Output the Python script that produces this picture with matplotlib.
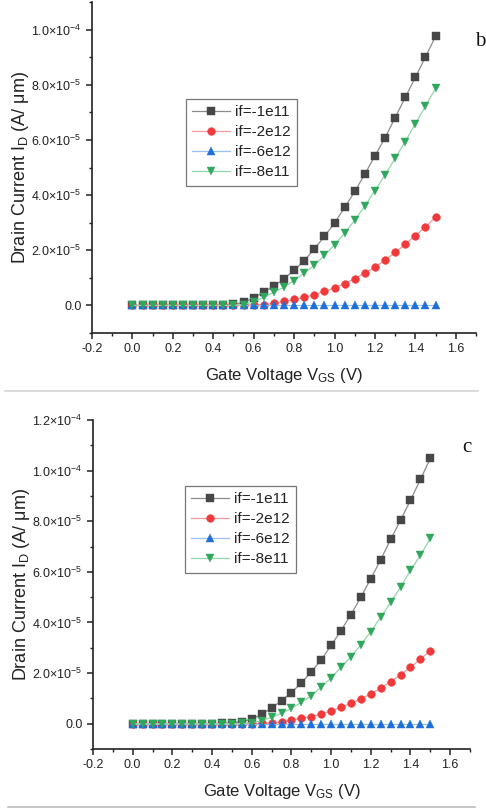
import matplotlib
matplotlib.use("Agg")
import matplotlib.pyplot as plt
from matplotlib.lines import Line2D
from matplotlib.ticker import MultipleLocator, FuncFormatter

plt.rcParams["font.family"] = ["Liberation Sans", "DejaVu Sans"]
plt.rcParams["mathtext.fontset"] = "custom"
plt.rcParams["mathtext.rm"] = "Liberation Sans"
plt.rcParams["mathtext.it"] = "Liberation Sans:italic"
plt.rcParams["mathtext.bf"] = "Liberation Sans:bold"

# Gate voltage sweep (V)
vgs = [0.00, 0.05, 0.10, 0.15, 0.20, 0.25, 0.30, 0.35, 0.40, 0.45,
       0.50, 0.55, 0.60, 0.65, 0.70, 0.75, 0.80, 0.85, 0.90, 0.95,
       1.00, 1.05, 1.10, 1.15, 1.20, 1.25, 1.30, 1.35, 1.40, 1.45, 1.50]

labels = ["if=-1e11", "if=-2e12", "if=-6e12", "if=-8e11"]

# Panel b drain current (uA/um)
id_b_1e11 = [0, 0, 0, 0, 0, 0, 0, 0, 0.05, 0.1,
             0.4, 1.1, 2.7, 4.9, 7.0, 9.6, 12.8, 16.2, 20.5, 25.0,
             29.9, 35.5, 41.3, 47.6, 54.2, 60.8, 68.1, 75.4, 82.7, 90.1, 97.6]
id_b_2e12 = [0, 0, 0, 0, 0, 0, 0, 0, 0, 0,
             0, 0, 0.1, 0.3, 0.8, 1.5, 2.2, 3.0, 3.9, 5.1,
             6.4, 7.9, 9.7, 11.7, 13.9, 16.4, 19.2, 22.2, 25.3, 28.5, 32.0]
id_b_6e12 = [0] * 31
id_b_8e11 = [0, 0, 0, 0, 0, 0, 0, 0, 0, 0,
             0.05, 0.3, 1.3, 3.0, 4.8, 6.6, 9.0, 11.7, 14.6, 18.1,
             22.0, 26.2, 30.9, 36.0, 41.6, 47.3, 53.3, 59.4, 65.9, 72.2, 78.8]

# Panel c drain current (uA/um)
id_c_1e11 = [0, 0, 0, 0, 0, 0, 0, 0, 0, 0.1,
             0.3, 0.8, 1.8, 3.7, 6.2, 9.1, 12.3, 16.1, 20.5, 25.2,
             30.9, 36.8, 43.1, 50.0, 57.3, 64.8, 72.8, 80.4, 88.3, 96.5, 104.8]
id_c_2e12 = [0, 0, 0, 0, 0, 0, 0, 0, 0, 0,
             0, 0, 0, 0.1, 0.3, 0.8, 1.5, 2.1, 2.8, 3.8,
             5.1, 6.5, 8.0, 9.8, 11.8, 14.0, 16.6, 19.4, 22.3, 25.5, 28.9]
id_c_6e12 = [0] * 31
id_c_8e11 = [0, 0, 0, 0, 0, 0, 0, 0, 0, 0,
             0, 0.1, 0.4, 1.2, 2.5, 4.1, 6.1, 8.4, 11.1, 14.4,
             18.1, 22.3, 26.5, 31.2, 36.4, 42.1, 47.9, 54.0, 60.6, 66.5, 73.2]

marker_colors = ["#474747", "#f0393b", "#1f6fd8", "#2fa85c"]
line_colors = ["#8c8c8c", "#f49a9a", "#98bff0", "#92d6aa"]
markers = ["s", "o", "^", "v"]

W, H = 486, 809
fig = plt.figure(figsize=(W / 100, H / 100), dpi=100)


def sci_label(v, pos):
    if abs(v) < 1e-12:
        return "0.0"
    exp = 0
    m = abs(v)
    while m < 1:
        m *= 10
        exp -= 1
    sign = "-" if v < 0 else ""
    return r"$\mathregular{%s%.1f{\times}10^{%d}}$" % (sign, m, exp)


def panel(rect, series, ymax):
    ax = fig.add_axes(rect)
    for i, ys in enumerate(series):
        ax.plot(vgs, [y * 1e-6 for y in ys], color=line_colors[i], lw=0.9,
                marker=markers[i], markersize=5.2 if markers[i] != "o" else 5.6,
                markerfacecolor=marker_colors[i], markeredgecolor=marker_colors[i],
                markeredgewidth=0.3, label=labels[i])
    ax.set_xlim(-0.2, 1.7)
    ax.set_ylim(-1e-5, ymax)
    ax.xaxis.set_major_locator(MultipleLocator(0.2))
    ax.xaxis.set_minor_locator(MultipleLocator(0.1))
    ax.yaxis.set_major_locator(MultipleLocator(2e-5))
    ax.yaxis.set_minor_locator(MultipleLocator(1e-5))
    ax.xaxis.set_major_formatter(FuncFormatter(lambda v, p: "%.1f" % v))
    ax.yaxis.set_major_formatter(FuncFormatter(sci_label))
    for s in ("top", "right"):
        ax.spines[s].set_visible(False)
    for s in ("left", "bottom"):
        ax.spines[s].set_linewidth(1.2)
        ax.spines[s].set_color("#222222")
    ax.tick_params(which="major", direction="out", length=4.5, width=1.1,
                   labelsize=9, colors="#222222", pad=3)
    ax.tick_params(which="minor", direction="out", length=2.5, width=1.0,
                   colors="#222222")
    ax.set_xlabel(r"Gate Voltage V$_{\mathregular{GS}}$ (V)", fontsize=12,
                  color="#222222", labelpad=7.5)
    ax.set_ylabel(r"Drain Current I$_{\mathregular{D}}$ (A/ μm)", fontsize=13,
                  color="#222222", labelpad=0)
    return ax


ax_b = panel([92 / W, 1 - 333 / H, 384 / W, 331 / H],
             [id_b_1e11, id_b_2e12, id_b_6e12, id_b_8e11], 1.1e-4)
ax_c = panel([93 / W, 1 - 749 / H, 377 / W, 329 / H],
             [id_c_1e11, id_c_2e12, id_c_6e12, id_c_8e11], 1.2e-4)

for ax, anchor in ((ax_b, (186 / W, 1 - 99 / H)), (ax_c, (185 / W, 1 - 486 / H))):
    leg = ax.legend(loc="upper left", bbox_to_anchor=anchor,
                    bbox_transform=fig.transFigure, fontsize=11,
                    frameon=True, fancybox=False, framealpha=1,
                    edgecolor="#777777", borderpad=0.4, labelspacing=0.4,
                    handlelength=2.5, handletextpad=0.3, borderaxespad=0)
    leg.get_frame().set_linewidth(0.9)
    for t in leg.get_texts():
        t.set_color("#222222")

fig.text(475 / W, 1 - 46 / H, "b", family="Liberation Serif", fontsize=15,
         color="#111111", ha="left", va="baseline")
fig.text(462 / W, 1 - 452 / H, "c", family="Liberation Serif", fontsize=15,
         color="#111111", ha="left", va="baseline")

# panel separators
fig.add_artist(Line2D([5 / W, 478 / W], [1 - 391 / H, 1 - 391 / H],
                      transform=fig.transFigure, color="#d6d6d6", lw=1.2))
fig.add_artist(Line2D([8 / W, 475 / W], [1 - 807 / H, 1 - 807 / H],
                      transform=fig.transFigure, color="#bdbdbd", lw=1.2))

fig.savefig("out.png", dpi=100, facecolor="white")
